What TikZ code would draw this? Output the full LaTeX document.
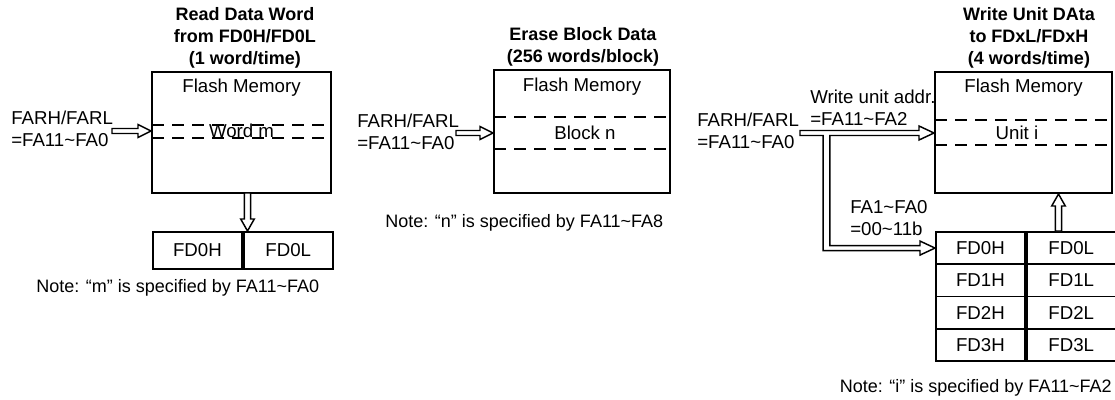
\documentclass[tikz,border=0pt]{standalone}
\usepackage{fontspec}
\setmainfont{Liberation Sans}
\usetikzlibrary{calc,fit}

\newcommand{\tld}{\textasciitilde}

\tikzset{
  txt/.style={font=\fontsize{14}{16.5}\selectfont, inner sep=0pt},
  notetxt/.style={font=\fontsize{13.5}{16}\selectfont, inner sep=0pt},
  ttl/.style={font=\fontsize{13.5}{16.5}\selectfont\bfseries, inner sep=0pt, align=center},
  membox/.style={draw, line width=1.5pt, inner sep=0pt},
  cut/.style={line width=1.4pt, dash pattern=on 9pt off 6pt},
  cell/.style={draw, line width=1.4pt, font=\fontsize{14}{16}\selectfont, minimum width=66.7pt, minimum height=#1, inner sep=0pt, anchor=north west},
  hollow/.style={draw, line width=1.1pt, fill=white, line join=miter},
}

% hollow block arrows, #1 = tail, #2 = tip
\newcommand{\rarrow}[2]{\path[hollow] ($(#1)+(0,-2.5)$) -- ($(#2)+(-13,-2.5)$) -- ($(#2)+(-13,-6.5)$) -- (#2) -- ($(#2)+(-13,6.5)$) -- ($(#2)+(-13,2.5)$) -- ($(#1)+(0,2.5)$) -- cycle;}
\newcommand{\darrow}[2]{\path[hollow] ($(#1)+(-3.2,0)$) -- ($(#2)+(-3.2,-12)$) -- ($(#2)+(-6.8,-12)$) -- (#2) -- ($(#2)+(6.8,-12)$) -- ($(#2)+(3.2,-12)$) -- ($(#1)+(3.2,0)$) -- cycle;}
\newcommand{\uarrow}[2]{\path[hollow] ($(#1)+(-3.2,0)$) -- ($(#2)+(-3.2,12)$) -- ($(#2)+(-6.8,12)$) -- (#2) -- ($(#2)+(6.8,12)$) -- ($(#2)+(3.2,12)$) -- ($(#1)+(3.2,0)$) -- cycle;}

\begin{document}
\begin{tikzpicture}[x=0.75pt,y=0.75pt,yscale=-1,xscale=1]
\useasboundingbox (0,0) rectangle (1115,400);

%%%%% Read data word
%Shape: Rectangle [Flash Memory]
\node[membox, fit={(152,72) (331,193)}] (mem1) {};
%Straight Lines [word m]
\draw[cut] (152,125) -- (331,125);
\draw[cut] (152,138) -- (331,138);
% Text Node
\node[txt] (fm1) at (241.5,88) {Flash Memory};
% Text Node
\node[txt] (wordm) at (241.5,131) {Word m};
% Text Node
\node[ttl] (ttl1) at (245,38) {Read Data Word\\from FD0H/FD0L\\(1 word/time)};
% Text Node
\node[txt, align=left, anchor=west] (far1) at (11,129) {FARH/FARL\\=FA11\tld FA0};
%Shape: Table
\node[cell=27.75pt] (rdh) at (152,231) {FD0H};
\node[cell=27.75pt] (rdl) at (rdh.north east) {FD0L};
% Text Node
\node[notetxt, anchor=west] (note1) at (36,288) {Note: “m” is specified by FA11\tld FA0};
%Arrows
\coordinate (a1) at (112,131);
\coordinate (b1) at (mem1.west |- a1);
\rarrow{a1}{b1}
\coordinate (a2) at (247.5,193);
\coordinate (b2) at (a2 |- rdh.north);
\darrow{a2}{b2}

%%%%% Erase block data
%Shape: Rectangle [Flash Memory]
\node[membox, fit={(494,70) (670,193)}] (mem2) {};
%Straight Lines [block n]
\draw[cut] (494,117) -- (670,117);
\draw[cut] (494,149) -- (670,149);
% Text Node
\node[txt] (fm2) at (582,87) {Flash Memory};
% Text Node
\node[txt] (blockn) at (585,133) {Block n};
% Text Node
\node[ttl] (ttl2) at (583,47) {Erase Block Data\\(256 words/block)};
% Text Node
\node[txt, align=left, anchor=west] (far2) at (357,132) {FARH/FARL\\=FA11\tld FA0};
% Text Node
\node[notetxt, anchor=west] (note2) at (385,223) {Note: “n” is specified by FA11\tld FA8};
%Arrows
\coordinate (a3) at (456,133);
\coordinate (b3) at (mem2.west |- a3);
\rarrow{a3}{b3}

%%%%% Write unit data
%Shape: Rectangle [Flash Memory]
\node[membox, fit={(935,72) (1112,193)}] (mem3) {};
%Straight Lines [unit i]
\draw[cut] (935,120) -- (1112,120);
\draw[cut] (935,145) -- (1112,145);
% Text Node
\node[txt] (fm3) at (1023.5,88) {Flash Memory};
% Text Node
\node[txt] (uniti) at (1017,133) {Unit i};
% Text Node
\node[ttl] (ttl3) at (1029,38) {Write Unit DAta\\to FDxL/FDxH\\(4 words/time)};
% Text Node
\node[txt, align=left, anchor=west] (far3) at (697,131) {FARH/FARL\\=FA11\tld FA0};
% Text Node
\node[txt, align=left, anchor=west] (wua) at (810,107.5) {Write unit addr.\\=FA11\tld FA2};
% Text Node
\node[txt, align=left, anchor=west] (fa10) at (850,218) {FA1\tld FA0\\=00\tld 11b};
%Shape: Table
\foreach \r in {0,...,3} {
  \node[cell=24.2pt] (fd\r h) at (935,{231+32.25*\r}) {FD\r H};
  \node[cell=24.2pt] (fd\r l) at (fd\r h.north east) {FD\r L};
}
% Text Node
\node[notetxt, anchor=east] (note3) at (1112,388) {Note: “i” is specified by FA11\tld FA2};
%Arrows
\coordinate (w3) at (800,133);
\coordinate (e3) at (mem3.west |- w3);
\coordinate (sp) at (826.5,133);
\coordinate (e4) at (fd0h.west);
\path[hollow] ($(w3)+(0,-2.5)$) -- ($(e3)+(-15,-2.5)$) -- ($(e3)+(-15,-7)$) -- (e3) -- ($(e3)+(-15,7)$) -- ($(e3)+(-15,2.5)$) -- ($(sp)+(3.3,2.5)$) -- ($(sp |- e4)+(3.3,-2.5)$) -- ($(e4)+(-15,-2.5)$) -- ($(e4)+(-15,-7)$) -- (e4) -- ($(e4)+(-15,7)$) -- ($(e4)+(-15,2.5)$) -- ($(sp |- e4)+(-3.3,2.5)$) -- ($(sp)+(-3.3,2.5)$) -- ($(w3)+(0,2.5)$) -- cycle;
\coordinate (a5) at (1058.5,231);
\coordinate (b5) at (a5 |- mem3.south);
\uarrow{a5}{b5}

\end{tikzpicture}
\end{document}
